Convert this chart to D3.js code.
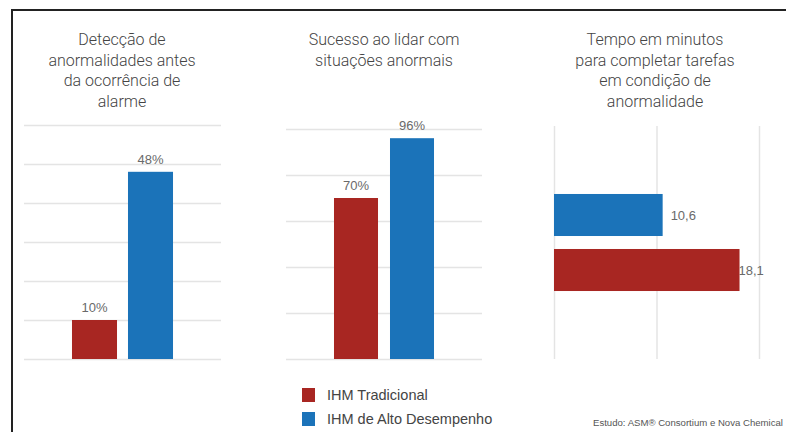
<!DOCTYPE html>
<html><head><meta charset="utf-8">
<script src="https://cdn.jsdelivr.net/npm/d3@7"></script>
<style>
html,body{margin:0;padding:0;background:#fff;}
svg{display:block;}
</style></head>
<body>
<svg id="chart" width="786" height="432"></svg>
<script>
// ---- data ----
const series = ["IHM Tradicional", "IHM de Alto Desempenho"];
const colors = ["#A82622", "#1B73B9"];
const titles1 = ["Detecção de", "anormalidades antes", "da ocorrência de", "alarme"];
const titles2 = ["Sucesso ao lidar com", "situações anormais"];
const titles3 = ["Tempo em minutos", "para completar tarefas", "em condição de", "anormalidade"];
const values1 = [10, 48];          // %
const labels1 = ["10%", "48%"];
const ticks1 = [0, 10, 20, 30, 40, 50, 60];
const values2 = [70, 96];          // %
const labels2 = ["70%", "96%"];
const ticks2 = [0, 20, 40, 60, 80, 100];
const values3 = [18.1, 10.6];      // minutes
const labels3 = ["18,1", "10,6"];
const ticks3 = [0, 10, 20];
const sourceText = "Estudo: ASM® Consortium e Nova Chemical";

const svg = d3.select("#chart");
const grid = "#e4e4e4";
const labelColor = "#6a6a6a";

// frame
svg.append("line").attr("x1", 11).attr("x2", 786).attr("y1", 10).attr("y2", 10)
  .attr("stroke", "#222").attr("stroke-width", 2);
svg.append("line").attr("x1", 12).attr("x2", 12).attr("y1", 9).attr("y2", 432)
  .attr("stroke", "#222").attr("stroke-width", 2);

function title(lines, cx) {
  const t = svg.append("text").attr("text-anchor", "middle")
    .attr("font-family", "Roboto, sans-serif").attr("font-size", 16).attr("font-weight", 300)
    .attr("fill", "#444");
  lines.forEach((l, i) => t.append("tspan").attr("x", cx).attr("y", 45 + i * 20.7).text(l));
}
title(titles1, 122);
title(titles2, 384);
title(titles3, 655);

// vertical bar panel
function vpanel(x0, x1, yTop, yBase, domainMax, ticks, values, labels, pInner) {
  const x = d3.scaleBand().domain(series).range([x0, x1]).paddingInner(pInner).paddingOuter(0.857);
  const y = d3.scaleLinear().domain([0, domainMax]).range([yBase, yTop]);
  const g = svg.append("g");
  g.append("g").attr("transform", `translate(${x0},0)`)
    .call(d3.axisRight(y).tickValues(ticks).tickSize(x1 - x0).tickFormat(""))
    .call(a => a.select(".domain").remove())
    .call(a => a.selectAll("line").attr("stroke", grid).attr("stroke-width", 1.5));
  g.selectAll("rect").data(values).join("rect")
    .attr("x", (d, i) => x(series[i])).attr("width", x.bandwidth())
    .attr("y", d => y(d)).attr("height", d => yBase - y(d))
    .attr("fill", (d, i) => colors[i]);
  g.selectAll("text.v").data(values).join("text").attr("class", "v")
    .attr("x", (d, i) => x(series[i]) + x.bandwidth() / 2)
    .attr("y", d => y(d) - 8)
    .attr("text-anchor", "middle").attr("font-family", "'Liberation Sans', Arial, sans-serif")
    .attr("font-size", 13).attr("fill", labelColor)
    .text((d, i) => labels[i]);
}
vpanel(24, 221, 125, 359, 60, ticks1, values1, labels1, 0.196);
vpanel(286, 482, 129, 359, 100, ticks2, values2, labels2, 0.214);

// horizontal bar panel
(function () {
  const x = d3.scaleLinear().domain([0, 20]).range([554, 759]);
  const order = [series[1], series[0]];
  const y = d3.scaleBand().domain(order).range([126, 359]).paddingInner(0.236).paddingOuter(1.236);
  const g = svg.append("g");
  g.append("g").attr("transform", "translate(0,126)")
    .call(d3.axisBottom(x).tickValues(ticks3).tickSize(233).tickFormat(""))
    .call(a => a.select(".domain").remove())
    .call(a => a.selectAll("line").attr("stroke", grid).attr("stroke-width", 1.5));
  g.selectAll("rect").data(values3).join("rect")
    .attr("x", x(0)).attr("width", d => x(d) - x(0))
    .attr("y", (d, i) => y(series[i])).attr("height", y.bandwidth())
    .attr("fill", (d, i) => colors[i]);
  g.selectAll("text.v").data(values3).join("text").attr("class", "v")
    .attr("x", (d, i) => i === 0 ? x(d) - 1 : x(d) + 8)
    .attr("y", (d, i) => y(series[i]) + y.bandwidth() / 2 + 5)
    .attr("font-family", "'Liberation Sans', Arial, sans-serif")
    .attr("font-size", 13).attr("fill", labelColor)
    .text((d, i) => labels3[i]);
})();

// legend
const lg = svg.append("g");
series.forEach((s, i) => {
  lg.append("rect").attr("x", 302).attr("y", 388 + i * 24).attr("width", 13).attr("height", 14)
    .attr("fill", colors[i]);
  lg.append("text").attr("x", 327).attr("y", 400 + i * 24)
    .attr("font-family", "'Liberation Sans', Arial, sans-serif").attr("font-size", 14.5)
    .attr("fill", "#444").text(s);
});
svg.append("text").attr("x", 593).attr("y", 426)
  .attr("font-family", "'Liberation Sans', Arial, sans-serif").attr("font-size", 9.6)
  .attr("fill", "#555").text(sourceText);
</script>
</body></html>
